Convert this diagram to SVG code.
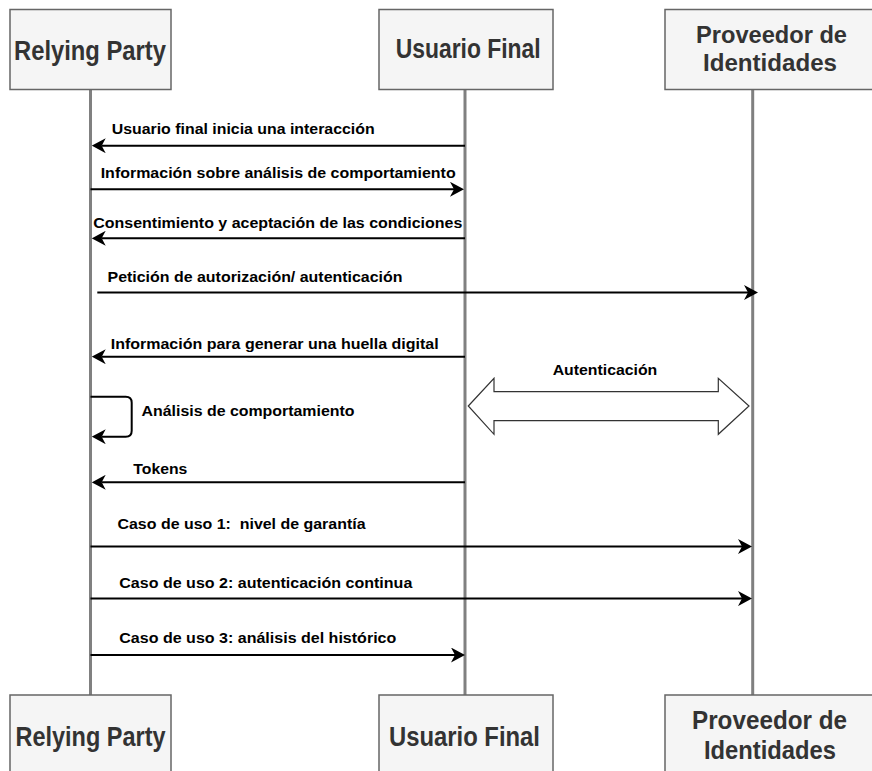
<svg xmlns="http://www.w3.org/2000/svg" width="872" height="771" viewBox="0 0 872 771">
<style>
.box{fill:#f5f5f5;stroke:#666666;stroke-width:1.5}
.life{stroke:#808080;stroke-width:3;fill:none}
.ttl{font-family:"Liberation Sans",Arial,Helvetica,sans-serif;font-weight:bold;fill:#333333}
.msg{font-family:"Liberation Sans",Arial,Helvetica,sans-serif;font-weight:bold;font-size:15px;fill:#000000;white-space:pre}
.arr{stroke:#000000;stroke-width:2;fill:none;marker-end:url(#head)}
.dbl{fill:#ffffff;stroke:#333333;stroke-width:1.2}
</style>
<defs>
<marker id="head" markerUnits="userSpaceOnUse" viewBox="0 0 14 15" markerWidth="14" markerHeight="15" refX="4" refY="7.5" orient="auto">
<path d="M14,7.5 L0,0 L4,7.5 L0,15 Z" fill="#000000"/>
</marker>
</defs>
<rect width="872" height="771" fill="#ffffff"/>
<g id="lifelines">
<line class="life" x1="90.5" y1="89.5" x2="90.5" y2="695"/>
<line class="life" x1="465" y1="89.5" x2="465" y2="695"/>
<line class="life" x1="752.7" y1="89.5" x2="752.7" y2="695"/>
</g>
<g id="node-rp-top">
<rect class="box" x="10" y="9.5" width="161" height="80"/>
<text class="ttl" x="14" y="59.5" font-size="27" textLength="152" lengthAdjust="spacingAndGlyphs">Relying Party</text>
</g>
<g id="node-uf-top">
<rect class="box" x="379" y="9.5" width="174" height="80"/>
<text class="ttl" x="395.7" y="58" font-size="27" textLength="145" lengthAdjust="spacingAndGlyphs">Usuario Final</text>
</g>
<g id="node-pi-top">
<rect class="box" x="665" y="9.5" width="213" height="80"/>
<text class="ttl" x="696" y="43" font-size="23" textLength="151" lengthAdjust="spacingAndGlyphs">Proveedor de</text>
<text class="ttl" x="703" y="70.5" font-size="23" textLength="134" lengthAdjust="spacingAndGlyphs">Identidades</text>
</g>
<g id="node-rp-bottom">
<rect class="box" x="10" y="695" width="161" height="80"/>
<text class="ttl" x="15.5" y="746" font-size="28" textLength="150" lengthAdjust="spacingAndGlyphs">Relying Party</text>
</g>
<g id="node-uf-bottom">
<rect class="box" x="379" y="695" width="174" height="80"/>
<text class="ttl" x="389" y="746" font-size="28" textLength="151" lengthAdjust="spacingAndGlyphs">Usuario Final</text>
</g>
<g id="node-pi-bottom">
<rect class="box" x="665" y="695" width="213" height="80"/>
<text class="ttl" x="692" y="729" font-size="26" textLength="155" lengthAdjust="spacingAndGlyphs">Proveedor de</text>
<text class="ttl" x="704" y="759" font-size="26" textLength="132" lengthAdjust="spacingAndGlyphs">Identidades</text>
</g>
<g id="connectors">
<line class="arr" x1="465" y1="145.7" x2="101.7" y2="145.7"/>
<line class="arr" x1="90.5" y1="189.3" x2="454" y2="189.3"/>
<line class="arr" x1="465" y1="238.3" x2="101.7" y2="238.3"/>
<line class="arr" x1="97.3" y1="292.5" x2="748" y2="292.5"/>
<line class="arr" x1="465" y1="356.7" x2="101.7" y2="356.7"/>
<path class="arr" d="M90.5,396.7 H125.7 Q131.7,396.7 131.7,402.7 V430.7 Q131.7,436.7 125.7,436.7 H101.7"/>
<line class="arr" x1="465" y1="482.3" x2="101.7" y2="482.3"/>
<line class="arr" x1="90.5" y1="546.5" x2="742" y2="546.5"/>
<line class="arr" x1="90.5" y1="598.6" x2="742" y2="598.6"/>
<line class="arr" x1="90.5" y1="655" x2="455" y2="655"/>
<polygon class="dbl" points="468.3,406 494,378.3 494,391.7 718.3,391.7 718.3,378.3 749,406 718.3,434.3 718.3,420.7 494,420.7 494,434.3"/>
</g>
<g id="labels">
<text class="msg" x="111.7" y="134.3" textLength="263" lengthAdjust="spacingAndGlyphs">Usuario final inicia una interacción</text>
<text class="msg" x="100.7" y="177.7" textLength="355" lengthAdjust="spacingAndGlyphs">Información sobre análisis de comportamiento</text>
<text class="msg" x="93.3" y="228.3" textLength="369" lengthAdjust="spacingAndGlyphs">Consentimiento y aceptación de las condiciones</text>
<text class="msg" x="107.5" y="281.7" textLength="295" lengthAdjust="spacingAndGlyphs">Petición de autorización/ autenticación</text>
<text class="msg" x="110.7" y="349.3" textLength="328" lengthAdjust="spacingAndGlyphs">Información para generar una huella digital</text>
<text class="msg" x="141.5" y="415.5" textLength="213" lengthAdjust="spacingAndGlyphs">Análisis de comportamiento</text>
<text class="msg" x="133.3" y="474" textLength="54" lengthAdjust="spacingAndGlyphs">Tokens</text>
<text class="msg" x="117.5" y="528.5" textLength="248" lengthAdjust="spacingAndGlyphs" xml:space="preserve">Caso de uso 1:  nivel de garantía</text>
<text class="msg" x="119.3" y="587.7" textLength="293" lengthAdjust="spacingAndGlyphs">Caso de uso 2: autenticación continua</text>
<text class="msg" x="119.3" y="643.3" textLength="277" lengthAdjust="spacingAndGlyphs">Caso de uso 3: análisis del histórico</text>
<text class="msg" x="552.7" y="375" textLength="104.6" lengthAdjust="spacingAndGlyphs">Autenticación</text>
</g>
</svg>
